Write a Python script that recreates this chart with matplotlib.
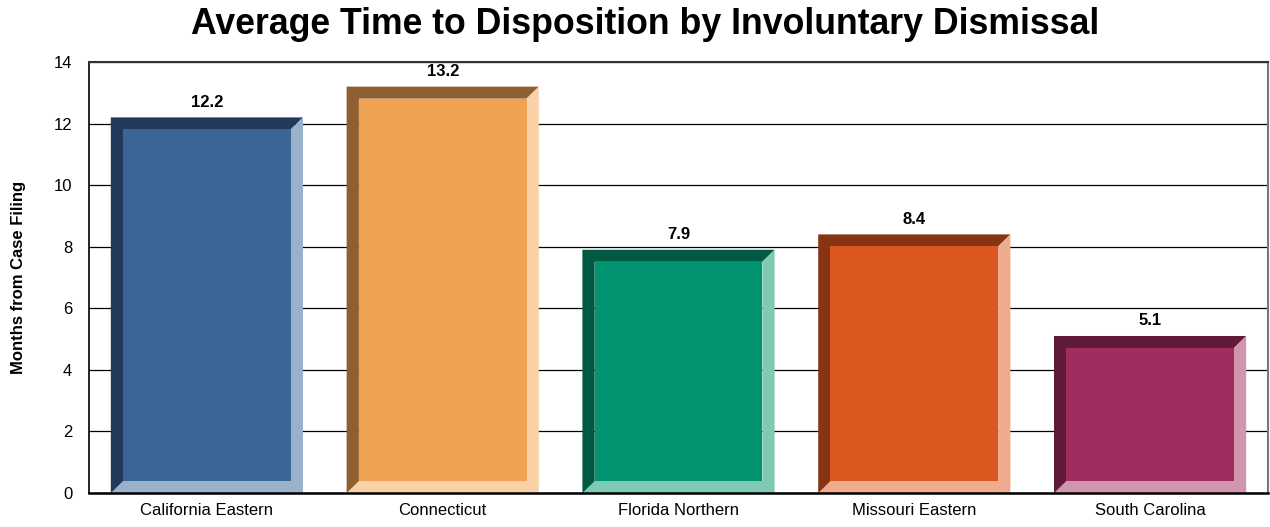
import matplotlib.pyplot as plt
from matplotlib.patches import Polygon

plt.rcParams['font.family'] = ['Liberation Sans', 'DejaVu Sans']

categories = ["California Eastern", "Connecticut", "Florida Northern", "Missouri Eastern", "South Carolina"]
values = [12.2, 13.2, 7.9, 8.4, 5.1]
labels = ["12.2", "13.2", "7.9", "8.4", "5.1"]

# face, dark (top/left), light (right/bottom)
face_colors = ["#3a6594", "#efa352", "#009570", "#dd5820", "#a02c60"]
dark_colors = ["#223a5a", "#8f5f30", "#005a42", "#863412", "#5e1a38"]
light_colors = ["#9ab1cc", "#f8d1a6", "#80c9b5", "#eeab8d", "#d096af"]

fig = plt.figure(figsize=(12.7, 5.27), dpi=100)
ax = fig.add_axes([89 / 1270, 34 / 527, (1268 - 89) / 1270, (493 - 62) / 527])

ax.set_xlim(-0.5, 4.5)
ax.set_ylim(0, 14)
ax.set_yticks(range(0, 15, 2))
ax.yaxis.grid(True, color="black", linewidth=0.9)
ax.set_axisbelow(True)

width = 0.815
bx = 0.052   # bevel thickness in x (data units)
by = 0.39    # bevel thickness in y (data units)

for i, (v, fc, dc, lc) in enumerate(zip(values, face_colors, dark_colors, light_colors)):
    x0 = i - width / 2
    x1 = i + width / 2
    # dark top + left
    ax.add_patch(Polygon([(x0, 0), (x0, v), (x1, v), (x1 - bx, v - by), (x0 + bx, v - by), (x0 + bx, 0)],
                         closed=True, facecolor=dc, edgecolor="none", zorder=3))
    # light right + bottom
    ax.add_patch(Polygon([(x1, v), (x1, 0), (x0, 0), (x0 + bx, by), (x1 - bx, by), (x1 - bx, v - by)],
                         closed=True, facecolor=lc, edgecolor="none", zorder=3))
    # face
    ax.add_patch(Polygon([(x0 + bx, by), (x1 - bx, by), (x1 - bx, v - by), (x0 + bx, v - by)],
                         closed=True, facecolor=fc, edgecolor="none", zorder=4))
    ax.text(i, v + 0.25, labels[i], ha="center", va="bottom", fontsize=12, fontweight="bold", zorder=5)

ax.set_xticks(range(len(categories)))
ax.set_xticklabels(categories, fontsize=12)
ax.tick_params(axis="both", length=0, labelsize=12)
ax.tick_params(axis="x", pad=7)
ax.tick_params(axis="y", pad=12)

ax.spines["left"].set_color("black")
ax.spines["left"].set_linewidth(1.2)
ax.spines["bottom"].set_color("black")
ax.spines["bottom"].set_linewidth(1.8)
ax.spines["bottom"].set_zorder(6)
ax.spines["top"].set_color("#333333")
ax.spines["top"].set_linewidth(1.5)
ax.spines["right"].set_color("#777777")
ax.spines["right"].set_linewidth(1.5)

ax.set_ylabel("Months from Case Filing", fontsize=12, fontweight="bold", labelpad=20)
fig.text(645 / 1270, 1 - 25 / 527, "Average Time to Disposition by Involuntary Dismissal",
         ha="center", va="center", fontsize=25.7, fontweight="bold")

fig.savefig("out.png", dpi=100)
